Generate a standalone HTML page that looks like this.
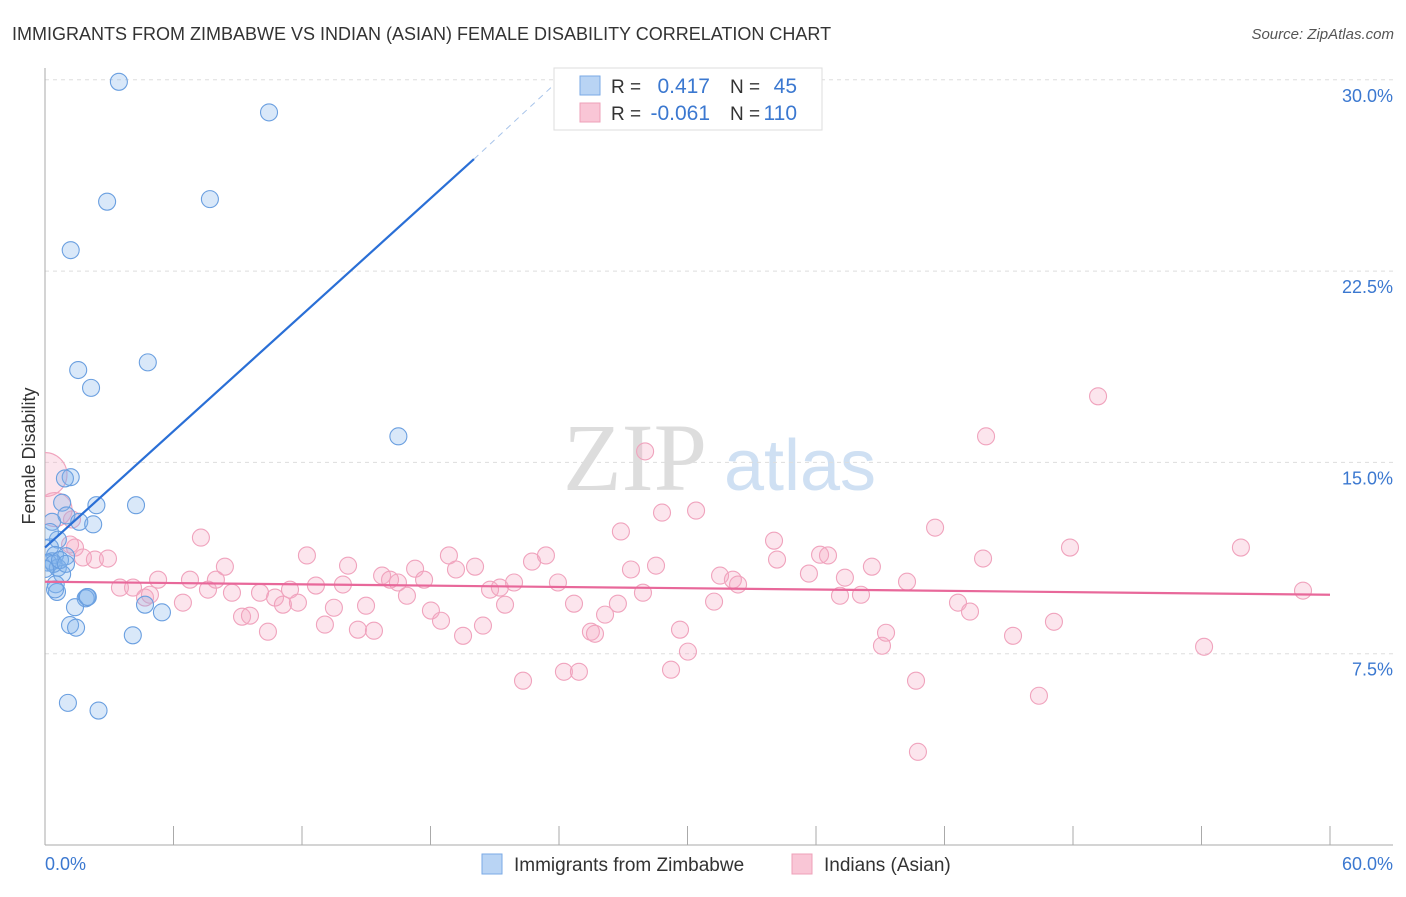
<!DOCTYPE html>
<html><head><meta charset="utf-8"><style>
body{margin:0;background:#fff;font-family:"Liberation Sans",sans-serif}
svg text{font-family:"Liberation Sans",sans-serif}
</style></head><body>
<svg id="c" width="1406" height="892" xmlns="http://www.w3.org/2000/svg">
<defs><clipPath id="plot"><rect x="45" y="60" width="1360" height="786"/></clipPath></defs>
<text x="12" y="40" font-size="18" fill="#333">IMMIGRANTS FROM ZIMBABWE VS INDIAN (ASIAN) FEMALE DISABILITY CORRELATION CHART</text>
<text x="1394" y="39" font-size="15" fill="#555" font-style="italic" text-anchor="end">Source: ZipAtlas.com</text>
<text x="35" y="456" font-size="18" fill="#333" text-anchor="middle" transform="rotate(-90 35 456)">Female Disability</text>
<g><text x="635" y="490" font-size="96" fill="#ddd" text-anchor="middle" style="font-family:'Liberation Serif',serif">ZIP</text><text x="800" y="490" font-size="72" fill="#cfe0f3" text-anchor="middle">atlas</text></g>
<g id="grid"></g><g id="pts" clip-path="url(#plot)"></g><g id="lines"></g>
<g>
<rect x="554" y="68" width="268" height="62" fill="#fff" stroke="#ddd"/>
<rect x="580" y="76" width="20" height="19" fill="#b9d4f4" stroke="#7aaae6"/>
<rect x="580" y="103" width="20" height="19" fill="#f9c6d6" stroke="#eea0b8"/>
<text x="611" y="93" font-size="19" fill="#333">R =</text><text x="710" y="93" font-size="21" fill="#3b78d0" text-anchor="end">0.417</text>
<text x="730" y="93" font-size="19" fill="#333">N =</text><text x="797" y="93" font-size="21" fill="#3b78d0" text-anchor="end">45</text>
<text x="611" y="120" font-size="19" fill="#333">R =</text><text x="710" y="120" font-size="21" fill="#3b78d0" text-anchor="end">-0.061</text>
<text x="730" y="120" font-size="19" fill="#333">N =</text><text x="797" y="120" font-size="21" fill="#3b78d0" text-anchor="end">110</text>
</g>
<g>
<rect x="482" y="854" width="20" height="20" fill="#b9d4f4" stroke="#7aaae6"/>
<text x="514" y="871" font-size="19" fill="#333">Immigrants from Zimbabwe</text>
<rect x="792" y="854" width="20" height="20" fill="#f9c6d6" stroke="#eea0b8"/>
<text x="824" y="871" font-size="19" fill="#333">Indians (Asian)</text>
</g>
</svg>
<script>
const yTicks=[7.5,15,22.5,30];
const yTickLabels=["7.5%","15.0%","22.5%","30.0%"];
const xTicks=[0,6,12,18,24,30,36,42,48,54,60];
const xTickLabels=["0.0%","60.0%"];
const blueX=[3.45,10.46,2.9,7.7,1.2,1.55,2.15,4.8,16.5,1.2,0.93,0.8,2.4,4.25,1.0,1.6,2.25,0.33,0.6,0.23,0.47,0.98,0.33,0.14,0.6,0.8,0.5,0.56,1.96,1.9,4.67,5.46,1.4,1.17,1.45,4.1,1.07,2.5,0.4,0.7,0.23,0.98,0.47,0,2.0];
const blueY=[30.0,28.8,25.3,25.4,23.4,18.7,18.0,19.0,16.1,14.5,14.45,13.5,13.4,13.4,13.0,12.75,12.65,12.75,12.05,11.75,11.45,11.4,11.2,11.15,10.95,10.7,10.3,10.0,9.8,9.75,9.5,9.2,9.4,8.7,8.6,8.3,5.65,5.35,11.1,11.25,12.35,11.1,10.1,10.9,9.8];
const pinkX=[0,0.47,1.26,1.4,1.77,2.33,2.94,1.17,3.5,4.11,4.67,5.28,4.9,6.44,6.77,7.28,7.61,7.98,8.4,8.73,9.2,9.57,10.04,10.41,10.74,11.11,11.44,11.81,12.23,12.65,13.07,13.49,13.91,14.15,14.61,14.99,15.36,15.74,16.11,16.48,16.9,17.28,17.7,18.02,18.49,18.86,19.19,19.52,20.08,20.45,20.78,21.24,21.48,21.9,22.32,22.74,23.39,23.95,24.23,24.7,24.93,25.49,25.68,26.15,26.75,26.89,27.36,28.02,27.92,28.53,28.81,29.23,29.65,30.02,30.4,31.24,31.52,32.12,32.36,34.04,34.18,35.67,36.19,36.56,37.12,37.35,38.1,38.61,39.08,39.27,40.25,40.67,40.76,41.56,42.63,43.19,43.8,43.94,45.2,46.41,47.11,47.86,49.17,54.12,55.84,58.74];
const pinkY=[14.6,13.23,12.84,11.74,11.35,11.27,11.31,11.86,10.17,10.17,9.78,10.48,9.89,9.58,10.48,12.13,10.09,10.48,10.99,9.97,9.03,9.07,9.97,8.44,9.78,9.5,10.09,9.58,11.43,10.25,8.72,9.38,10.29,11.03,8.52,9.46,8.48,10.64,10.48,10.37,9.85,10.91,10.48,9.27,8.87,11.43,10.88,8.28,10.99,8.68,10.09,10.17,9.5,10.37,6.52,11.19,11.43,10.37,6.87,9.54,6.87,8.44,8.36,9.11,9.54,12.37,10.88,15.51,9.97,11.03,13.11,6.95,8.52,7.66,13.19,9.62,10.64,10.48,10.29,12.01,11.27,10.72,11.46,11.43,9.85,10.56,9.89,10.99,7.89,8.4,10.4,6.52,3.73,12.52,9.58,9.23,11.31,16.1,8.28,5.93,8.83,11.74,17.67,7.85,11.74,10.05];
const pinkR=[22,17];
const blueLine=[[0,11.74],[20.03,26.97]];
const blueDash=[[20.03,26.97],[23.81,29.92]];
const pinkLine=[[0,10.4],[60,9.89]];
const X=v=>45+v/60*1285, Y=v=>845-v/7.5*191.3, YP=v=>847-v/7.5*191.3;
const NS="http://www.w3.org/2000/svg";
function mk(p,t,a){const e=document.createElementNS(NS,t);for(const k in a)e.setAttribute(k,a[k]);p.appendChild(e);return e;}
const g=document.getElementById('grid');
yTicks.forEach((t,i)=>{
 const l=mk(g,'line',{x1:45,x2:1393,y1:Y(t),y2:Y(t),stroke:'#ddd','stroke-dasharray':'4,4'});
 
 
 const tx=mk(g,'text',{x:1393,y:Y(t)+22,'font-size':18,fill:'#3b78d0','text-anchor':'end'});tx.textContent=yTickLabels[i];
 
 
});
const ax=mk(g,'line',{x1:45,x2:45,y1:68,y2:845,stroke:'#aaa'});


const bx=mk(g,'line',{x1:45,x2:1393,y1:845,y2:845,stroke:'#aaa'});


xTicks.forEach(t=>{const l=mk(g,'line',{x1:X(t),x2:X(t),y1:826,y2:845,stroke:'#aaa'});
 
 });
const t0=mk(g,'text',{x:45,y:870,'font-size':18,fill:'#3b78d0'});t0.textContent=xTickLabels[0];


const t1=mk(g,'text',{x:1393,y:870,'font-size':18,fill:'#3b78d0','text-anchor':'end'});t1.textContent=xTickLabels[1];


const p=document.getElementById('pts');
pinkX.forEach((x,i)=>{const c=mk(p,'circle',{cx:X(x),cy:YP(pinkY[i]),r:pinkR[i]||8.5,fill:'rgba(246,170,196,0.3)',stroke:'#f0a3bd','stroke-width':1.1});
 
 });
blueX.forEach((x,i)=>{const c=mk(p,'circle',{cx:X(x),cy:YP(blueY[i]),r:8.5,fill:'rgba(130,178,236,0.3)',stroke:'#6a9fe0','stroke-width':1.1});
 
 });
const L=document.getElementById('lines');
const b=mk(L,'line',{x1:X(blueLine[0][0]),y1:YP(blueLine[0][1]),x2:X(blueLine[1][0]),y2:YP(blueLine[1][1]),stroke:'#2a6fd6','stroke-width':2.2});


const bd=mk(L,'line',{x1:X(blueDash[0][0]),y1:YP(blueDash[0][1]),x2:X(blueDash[1][0]),y2:YP(blueDash[1][1]),stroke:'#a8c4ea','stroke-width':1,'stroke-dasharray':'6,5'});


const pl=mk(L,'line',{x1:X(pinkLine[0][0]),y1:YP(pinkLine[0][1]),x2:X(pinkLine[1][0]),y2:YP(pinkLine[1][1]),stroke:'#e8689a','stroke-width':2.2});


</script>
</body></html>
